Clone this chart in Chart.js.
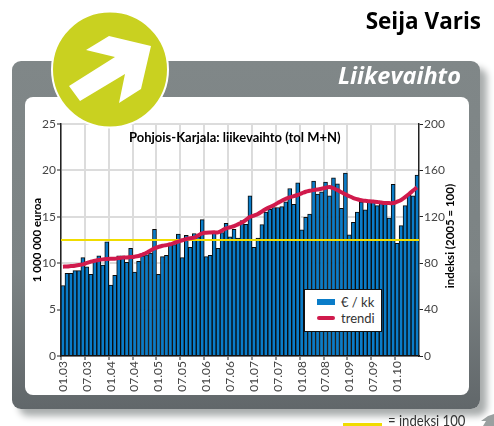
<!DOCTYPE html>
<html><head><meta charset="utf-8">
<style>
html,body{margin:0;padding:0;background:#fff;width:494px;height:426px;overflow:hidden}
.abs{position:absolute}
#card{left:12px;top:61px;width:468px;height:348px;border-radius:9px;background:linear-gradient(#808788 0,#7c8384 60%,#61676a 100%);box-shadow:7px 7px 7px #a9adad}
#inner{left:25px;top:97px;width:444px;height:298px;border-radius:8px;background:#fff}
#cv{position:absolute;left:0;top:0;z-index:1}
#deco{left:0;top:0;z-index:2}
.t{z-index:3;white-space:nowrap}
#name{right:13px;top:5px;font:bold 22.5px "Open Sans";color:#000}
#head{right:33px;top:59px;font:italic bold 23.5px "Open Sans";color:#fff}
#title{left:129px;top:129px;font:bold 13px Lato;color:#000}
#rt{left:449px;top:236px;font:bold 11.5px Lato;color:#000;transform:translate(-50%,-50%) rotate(-90deg)}
#legend{left:304px;top:289px;width:76px;height:41px;border:1.5px solid #111;background:#fff;z-index:3}
.sw{position:absolute;left:12px;width:18px}
.lt{position:absolute;left:36px;font:13px Lato;color:#333}
#idx{left:388px;top:411px;font:15px Lato;color:#333;transform-origin:left top;transform:scaleX(.875)}
#idxl{left:343px;top:423px;width:39px;height:2.5px;background:#f0dc00;z-index:3}
</style>
</head><body>
<div class="abs" id="card"></div>
<div class="abs" id="inner"></div>
<canvas id="cv" width="494" height="426"></canvas>
<svg class="abs" id="deco" width="494" height="426">
<circle cx="110" cy="69.5" r="58" fill="#c9d120" stroke="#fff" stroke-width="2"/>
<polygon fill="#fff" points="109,36 151,46 141,89 119,103 125,74 80,101 69,86 115,57 86,50"/>
<polygon fill="#9aa0a0" points="481,421 488,416 494,414 494,426 483,426 486,421"/>
</svg>
<div class="abs t" id="name">Seija Varis</div>
<div class="abs t" id="head">Liikevaihto</div>
<div class="abs t" id="title">Pohjois-Karjala: liikevaihto (tol M+N)</div>
<div class="abs t" id="rt">indeksi (2005 = 100)</div>
<div class="abs" id="legend">
<div class="sw" style="top:9px;height:6px;background:#0a7cc8"></div>
<div class="lt" style="top:4px">€ / kk</div>
<div class="sw" style="top:26px;height:3.5px;border-radius:2px;background:#d01a4c"></div>
<div class="lt" style="top:20px">trendi</div>
</div>
<div class="abs" id="idxl"></div>
<div class="abs t" id="idx">= indeksi 100</div>
<script src="https://cdn.jsdelivr.net/npm/chart.js@4"></script>
<script>
const categories=[
"01.03","02.03","03.03","04.03","05.03","06.03","07.03","08.03","09.03","10.03","11.03","12.03",
"01.04","02.04","03.04","04.04","05.04","06.04","07.04","08.04","09.04","10.04","11.04","12.04",
"01.05","02.05","03.05","04.05","05.05","06.05","07.05","08.05","09.05","10.05","11.05","12.05",
"01.06","02.06","03.06","04.06","05.06","06.06","07.06","08.06","09.06","10.06","11.06","12.06",
"01.07","02.07","03.07","04.07","05.07","06.07","07.07","08.07","09.07","10.07","11.07","12.07",
"01.08","02.08","03.08","04.08","05.08","06.08","07.08","08.08","09.08","10.08","11.08","12.08",
"01.09","02.09","03.09","04.09","05.09","06.09","07.09","08.09","09.09","10.09","11.09","12.09",
"01.10","02.10","03.10","04.10","05.10","06.10"];
const euroValues=[
7.6,8.9,8.9,9.2,9.2,10.6,9.6,8.8,10.2,10.8,9.8,12.3,
7.65,8.7,10.8,10.8,10.1,11.6,9.05,10.2,10.8,10.9,11.1,13.65,
8.8,10.7,10.85,12.1,12,13.15,10.6,13,11.7,13.2,12.85,14.7,
10.7,10.85,13.3,11.6,13.3,14.3,12.85,13.65,12.7,14.6,14.2,17.25,
11.7,12.7,14.15,15.5,15.8,16,16,16.1,16.6,18.05,16.35,18.65,
13.6,14.95,15.3,18.85,17.45,17.7,18.75,17.25,19.2,18.55,15.9,19.7,
13.05,14.4,15.5,16.6,15.75,16.75,16.75,16.2,16.65,16.5,14.85,18.5,
12.15,14.05,16.2,17.35,17.25,19.5];
const trendValues=[
77,77.2,77.5,77.8,78.4,79,80.2,81.3,82.1,82.8,83.3,83.6,
83.8,83.9,84.4,84.8,85,85.3,85.6,86.2,87.5,89,91,92.8,
94,95,95.6,96.3,97.5,98.6,99.8,100.9,101.5,102,104,105.8,
106.3,106.5,106.6,106.6,108.2,110,111,112,113.5,115,117.4,119.8,
121,122.4,124.6,126.7,128.4,130,132,133.9,135.4,136.8,137.8,138.8,
140.2,141.6,142.4,143,143.6,144.2,145,145.7,144.6,143,141.2,139.4,
137.7,136.2,135.1,134.2,133.8,133.4,133.1,132.8,132.3,131.9,131.8,131.9,
133,134.5,137,139.7,142.6,145.4];
const indexLevel=100;
const leftTicks=[0,5,10,15,20,25];
const rightTicks=[0,40,80,120,160,200];
const tickFont={family:'Lato',size:12};
const indexLine={id:'indexLine',afterDatasetDraw(c,a){
  if(a.index!==0)return;
  const y=c.scales.y1.getPixelForValue(indexLevel),g=c.ctx;
  g.save();g.strokeStyle='#f0dc00';g.lineWidth=2;g.beginPath();
  g.moveTo(c.chartArea.left,y);g.lineTo(c.chartArea.right,y);g.stroke();g.restore();
}};
new Chart(document.getElementById('cv'),{
 type:'bar',
 plugins:[indexLine],
 data:{labels:categories,datasets:[
  {type:'bar',label:'€ / kk',data:euroValues,yAxisID:'y',backgroundColor:'#0a7cc8',borderColor:'#0b0b0b',borderWidth:1,barPercentage:1,categoryPercentage:1,order:2},
  {type:'line',label:'trendi',data:trendValues,yAxisID:'y1',borderColor:'#d01a4c',borderWidth:4,pointRadius:0,tension:0.4,order:1}
 ]},
 options:{responsive:false,animation:false,devicePixelRatio:1,
  layout:{padding:{left:30,right:38,top:124,bottom:22}},
  plugins:{legend:{display:false},title:{display:false},tooltip:{enabled:false}},
  scales:{
   x:{grid:{offset:true,lineWidth:2,tickWidth:1,tickLength:4,
      color:c=>c.index%6===0?'#dcdcdc':'rgba(0,0,0,0)',
      tickColor:c=>c.index%6===0?'#222':'rgba(0,0,0,0)'},
      border:{color:'#111',width:1.5},
      ticks:{autoSkip:false,maxRotation:90,minRotation:90,padding:1,color:'#444',font:tickFont,
        callback:function(v,i){return i%6===0?this.getLabelForValue(v):'';}},
      afterFit(s){s.height=48;}},
   y:{position:'left',min:0,max:25,
      afterBuildTicks(s){s.ticks=leftTicks.map(v=>({value:v}));},
      grid:{color:'#dcdcdc',lineWidth:2,tickColor:'#222',tickWidth:1,tickLength:4},
      border:{color:'#222',width:1.5},
      ticks:{color:'#444',font:tickFont,padding:1},
      title:{display:true,text:'1 000 000 euroa',color:'#000',padding:0,font:{family:'Lato',size:11.5,weight:'bold'}},
      afterFit(s){s.width=31;}},
   y1:{position:'right',min:0,max:200,
      afterBuildTicks(s){s.ticks=rightTicks.map(v=>({value:v}));},
      grid:{drawOnChartArea:false,tickColor:'#222',tickWidth:1,tickLength:4},
      border:{color:'#222',width:1.5},
      ticks:{color:'#444',font:tickFont,padding:1},
      afterFit(s){s.width=37;}}
  }}
});
</script>
</body></html>
